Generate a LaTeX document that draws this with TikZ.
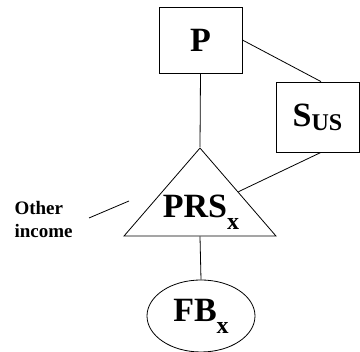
\documentclass[tikz,border=0pt]{standalone}
\usepackage{fontspec}
\setmainfont{Liberation Serif}
\usetikzlibrary{positioning, shapes.geometric, calc}
\newcommand{\bigbf}{\fontsize{34}{36}\selectfont\bfseries}
\newcommand{\subtxt}[2][0.2em]{\raisebox{-#1}{\fontsize{24}{24}\selectfont #2}}
\tikzset{
  ent/.style={rectangle, draw, line width=0.8pt, minimum width=83pt,
              minimum height=66pt, inner sep=0pt, font=\bigbf},
  tri/.style={isosceles triangle, isosceles triangle stretches,
              shape border rotate=90, draw, line width=0.8pt,
              minimum width=152pt, minimum height=88pt, inner sep=0pt},
  ell/.style={ellipse, draw, line width=0.8pt, minimum width=108pt,
              minimum height=72pt, inner sep=0pt, font=\bigbf},
  ln/.style={line width=0.8pt},
  lbl/.style={font=\fontsize{19}{23}\selectfont\bfseries, align=left}
}
\begin{document}
\begin{tikzpicture}[x=1pt, y=1pt]
  \useasboundingbox (0,0) rectangle (360,352);
  \node[ent] (p) at (200.5,312) {P};
  \node[ent, minimum height=70pt] (sus) at (317.5,235) {S\subtxt[0.12em]{US}};
  \node[tri, anchor=apex] (prs) at (200,205) {};
  \node[font=\bigbf] (prslbl) at (201,140) {PRS\subtxt[0.35em]{x}};
  \node[ell] (fb) at (201,36) {FB\subtxt[0.35em]{x}};
  \node[lbl, anchor=west] (oi) at (11,132) {Other\\income};
  \coordinate (oiA) at (89,134);
  \coordinate (oiB) at (129,151);

  \draw[ln] (p.south) -- (prs.apex);
  \draw[ln] (p.east) -- ([xshift=3.5pt]sus.north);
  \draw[ln] ([xshift=3.5pt]sus.south) -- ($(prs.apex)!0.5!(prs.right corner)$);
  \draw[ln] (prs.south) -- (fb.north);
  \draw[ln] (oiA) -- (oiB);
\end{tikzpicture}
\end{document}
